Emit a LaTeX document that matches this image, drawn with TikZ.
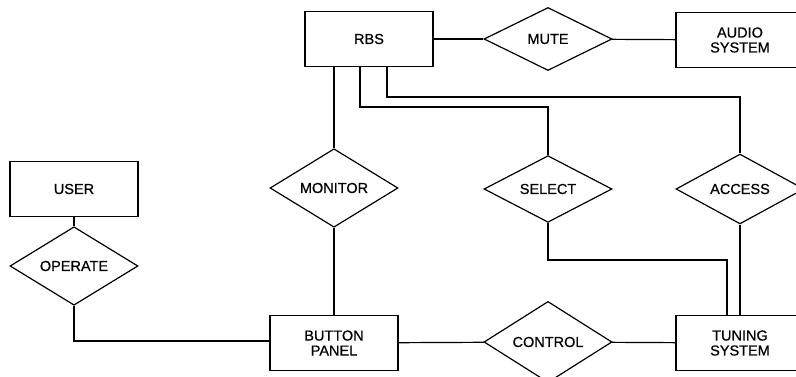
\documentclass[tikz,border=0pt]{standalone}
\usepackage{fontspec}
\setmainfont[UprightFeatures={FakeBold=0.7}]{Liberation Sans}
\usetikzlibrary{shapes.geometric}

\begin{document}
\begin{tikzpicture}[x=1pt,y=-1pt,line width=1.2pt,
    font=\fontsize{14.5}{15}\selectfont,
    entity/.style={draw,rectangle,minimum width=128pt,minimum height=55pt,align=center,inner sep=0pt},
    relation/.style={draw,diamond,minimum width=128pt,minimum height=63pt,inner sep=0pt}]
\clip (0,0) rectangle (796,377);
\node[entity] (rbs) at (369,39) {RBS};
\node[relation] (mute) at (548,39) {MUTE};
\node[entity] (audio) at (740,40) {AUDIO\\SYSTEM};
\node[entity] (user) at (74,189) {USER};
\node[relation] (operate) at (74,266) {OPERATE};
\node[relation,minimum height=66pt] (monitor) at (334,188) {MONITOR};
\node[relation] (select) at (548,189) {SELECT};
\node[relation] (access) at (740,189) {ACCESS};
\node[entity] (button) at (334,343) {BUTTON\\PANEL};
\node[relation,minimum height=61pt] (control) at (548,342) {CONTROL};
\node[entity] (tuning) at (740,343) {TUNING\\SYSTEM};
\draw (rbs) -- (mute);
\draw (mute) -- (audio);
\draw (user) -- (operate);
\draw (operate.south) |- ([yshift=2pt]button.west);
\draw (rbs.south -| monitor.north) -- (monitor.north);
\draw (monitor) -- (button);
\draw ([xshift=-9pt]rbs.south) |- (select.north |- 0,107) -- (select.north);
\draw ([xshift=18pt]rbs.south) |- (access.north |- 0,97) -- (access.north);
\draw (select.south) |- ([xshift=-13pt]tuning.north |- 0,260) -- ([xshift=-13pt]tuning.north);
\draw (access.south) -- (access.south |- tuning.north);
\draw (button) -- (control);
\draw (control) -- (tuning);
\end{tikzpicture}
\end{document}
